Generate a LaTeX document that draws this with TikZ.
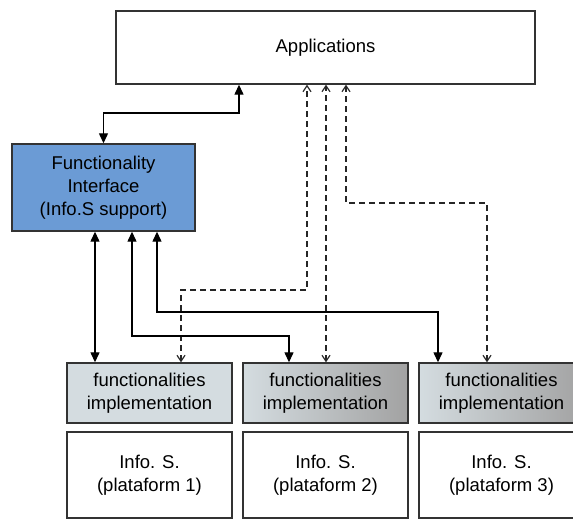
\documentclass[tikz,border=0pt]{standalone}
\usepackage{fontspec}
\setmainfont{Liberation Sans}
\usetikzlibrary{arrows.meta}
\definecolor{fiblue}{HTML}{6B9BD5}
\definecolor{implight}{HTML}{D4DCE0}
\definecolor{impdark}{HTML}{A2A2A2}
\definecolor{edgegray}{HTML}{333333}
\begin{document}
\begin{tikzpicture}[x=1pt,y=-1pt,
  box/.style={draw=edgegray, line width=1.4pt, align=center, inner sep=0pt,
    text=black, font=\fontsize{18.5}{23}\selectfont},
  solidlink/.style={line width=1.3pt,
    {Triangle[length=10pt,width=9pt]}-{Triangle[length=10pt,width=9pt]}},
  dashlink/.style={line width=1.2pt, draw=black!85, dash pattern=on 6pt off 4pt,
    {Straight Barb[length=6pt,width=8pt]}-{Straight Barb[length=6pt,width=8pt]}}
]
\useasboundingbox (0,0) rectangle (573,519);
\clip (0,0) rectangle (573,519);

% boxes
\node[box, minimum width=419pt, minimum height=73pt] (app) at (325.5,47.5) {Applications};
\node[box, fill=fiblue, minimum width=183pt, minimum height=87pt] (fi) at (103.5,187.5)
  {Functionality\\Interface\\(Info.S support)};

\node[box, fill=implight, minimum width=165pt, minimum height=60pt] (imp1) at (149.5,393)
  {functionalities\\implementation};
\node[box, left color=implight, right color=impdark, minimum width=165pt, minimum height=60pt] (imp2) at (325.5,393)
  {functionalities\\implementation};
\node[box, left color=implight, right color=impdark, minimum width=165pt, minimum height=60pt] (imp3) at (501.5,393)
  {functionalities\\implementation};

\node[box, minimum width=165pt, minimum height=86pt] (info1) at (149.5,475) {Info. S.\\(plataform 1)};
\node[box, minimum width=165pt, minimum height=86pt] (info2) at (325.5,475) {Info. S.\\(plataform 2)};
\node[box, minimum width=165pt, minimum height=86pt] (info3) at (501.5,475) {Info. S.\\(plataform 3)};

% bend points of the connectors
\coordinate (k0) at (239,113);
\coordinate (c1) at (95,0);
\coordinate (k2a) at (132,336);
\coordinate (k2b) at (289,336);
\coordinate (k3a) at (157,312);
\coordinate (k3b) at (438,312);
\coordinate (d1a) at (181,290);
\coordinate (d1b) at (307,290);
\coordinate (d2) at (326,0);
\coordinate (d3a) at (487,203);
\coordinate (d3b) at (346,203);

% dashed links from the implementations to the applications
\draw[dashlink] (imp1.north -| d1a) -- (d1a) -- (d1b) -- (d1b |- app.south);
\draw[dashlink] (imp2.north -| d2) -- (app.south -| d2);
\draw[dashlink] (imp3.north -| d3a) -- (d3a) -- (d3b) -- (d3b |- app.south);

% solid links through the functionality interface
\draw[solidlink] (fi.north) |- (k0) -- (k0 |- app.south);
\draw[solidlink] (fi.south -| c1) -- (imp1.north -| c1);
\draw[solidlink] (fi.south -| k2a) -- (k2a) -- (k2b) -- (imp2.north -| k2b);
\draw[solidlink] (fi.south -| k3a) -- (k3a) -- (k3b) -- (imp3.north -| k3b);
\end{tikzpicture}
\end{document}
